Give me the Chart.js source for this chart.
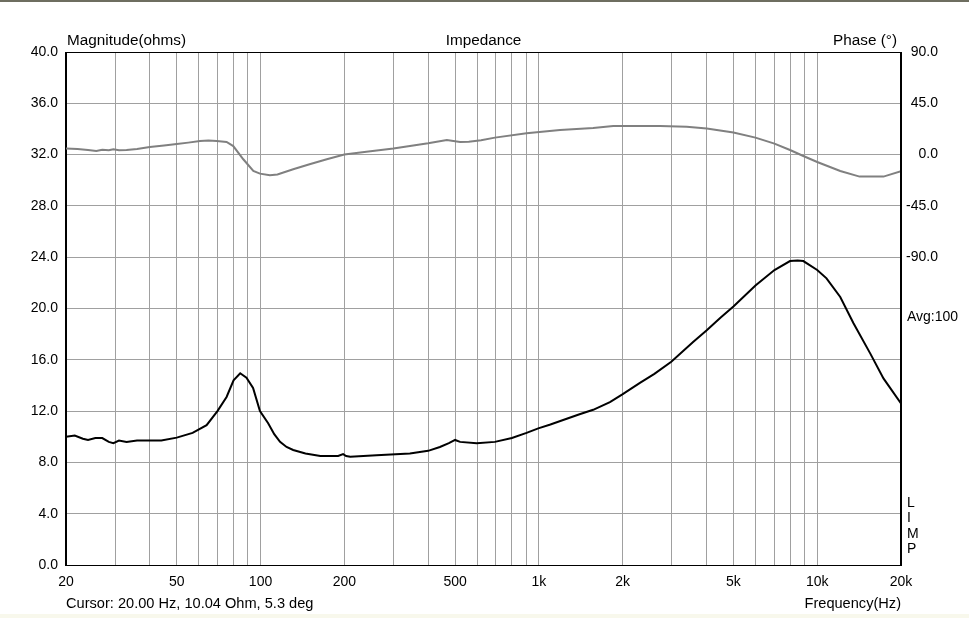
<!DOCTYPE html>
<html>
<head>
<meta charset="utf-8">
<script src="https://cdn.jsdelivr.net/npm/chart.js@4/dist/chart.umd.min.js"></script>
<style>
  html, body { margin: 0; padding: 0; background: #ffffff; }
  #wrap { width: 969px; height: 618px; position: relative; }
  canvas { display: block; }
</style>
</head>
<body>
<div id="wrap"><canvas id="c" width="969" height="618"></canvas></div>
<script>
// ---- Data ----
const magFreqs = [20, 21.5, 23, 24, 25.5, 27, 28.5, 29.6, 31, 33, 36, 40, 44, 50, 57, 64, 70, 75.5, 80, 84.5, 89, 94, 99.5, 106.5, 112, 117.5, 124, 131, 145, 164, 190, 198, 203, 210, 261, 344, 400, 441, 475, 500, 521, 598, 695, 800, 903, 995, 1100, 1259, 1400, 1567, 1800, 1995, 2307, 2600, 2990, 3590, 4010, 4500, 5000, 6000, 7020, 7985, 8500, 8915, 10000, 10800, 12100, 13500, 15500, 17300, 20000];
const magnitudeOhms = [10.0, 10.1, 9.85, 9.75, 9.9, 9.9, 9.6, 9.5, 9.7, 9.6, 9.7, 9.7, 9.7, 9.93, 10.3, 10.9, 12.0, 13.1, 14.4, 14.95, 14.6, 13.8, 12.0, 11.05, 10.2, 9.6, 9.2, 8.97, 8.7, 8.5, 8.5, 8.65, 8.5, 8.45, 8.55, 8.7, 8.9, 9.2, 9.5, 9.75, 9.6, 9.49, 9.6, 9.9, 10.3, 10.65, 10.95, 11.4, 11.75, 12.1, 12.7, 13.3, 14.2, 14.9, 15.85, 17.4, 18.3, 19.3, 20.15, 21.8, 23.0, 23.7, 23.75, 23.7, 23.0, 22.35, 20.9, 18.85, 16.5, 14.55, 12.6];

const phaseFreqs = [20, 22, 24, 25.7, 27, 28.5, 29.6, 31, 33, 36, 40, 45, 50, 55, 60.6, 65, 69.6, 75.5, 79.8, 86.7, 94.2, 99.5, 108, 115, 131, 150, 173, 200, 240, 300, 400, 467, 521, 560, 620, 695, 903, 1191, 1567, 1850, 2724, 3397, 4010, 5000, 6000, 7020, 7985, 8915, 10000, 12100, 14200, 17300, 20000];
const phaseDeg = [5.3, 5.0, 4.0, 3.2, 4.2, 3.8, 4.6, 3.9, 4.0, 5.0, 6.7, 8.0, 9.3, 10.5, 11.9, 12.3, 11.9, 11.1, 7.5, -4.1, -14.4, -16.7, -18.2, -17.5, -12.9, -8.5, -4.1, 0, 2.5, 5.3, 9.9, 12.8, 11.1, 11.3, 12.5, 14.9, 18.7, 21.6, 23.3, 25.1, 25.1, 24.5, 22.8, 19.3, 14.9, 9.6, 4.0, -1.2, -6.5, -14.4, -19.3, -19.3, -14.6];

const xGridTicks = [20, 30, 40, 50, 60, 70, 80, 90, 100, 200, 300, 400, 500, 600, 700, 800, 900, 1000, 2000, 3000, 4000, 5000, 6000, 7000, 8000, 9000, 10000, 20000];
const xLabelMap = {20: '20', 50: '50', 100: '100', 200: '200', 500: '500', 1000: '1k', 2000: '2k', 5000: '5k', 10000: '10k', 20000: '20k'};

const titleLeft = 'Magnitude(ohms)';
const titleCenter = 'Impedance';
const titleRight = 'Phase (°)';
const cursorText = 'Cursor: 20.00 Hz, 10.04 Ohm, 5.3 deg';
const xAxisTitle = 'Frequency(Hz)';
const avgText = 'Avg:100';
const sideLetters = ['L', 'I', 'M', 'P'];

const FONT = '"Liberation Sans", Arial, sans-serif';

const magData = magFreqs.map((f, i) => ({x: f, y: magnitudeOhms[i]}));
const phaseData = phaseFreqs.map((f, i) => ({x: f, y: phaseDeg[i]}));

const decor = {
  id: 'decor',
  beforeDraw(chart) {
    const ctx = chart.ctx;
    ctx.save();
    ctx.fillStyle = '#ffffff';
    ctx.fillRect(0, 0, chart.width, chart.height);
    ctx.fillStyle = '#6e6e60';
    ctx.fillRect(0, 0, chart.width, 2);
    ctx.fillStyle = '#f8f8ec';
    ctx.fillRect(0, 614, chart.width, 4);
    ctx.restore();
  },
  afterDraw(chart) {
    const ctx = chart.ctx;
    const a = chart.chartArea;
    ctx.save();
    ctx.strokeStyle = '#000000';
    ctx.lineWidth = 1;
    ctx.strokeRect(Math.round(a.left) - 0.5, Math.round(a.top) + 0.5, Math.round(a.right - a.left), Math.round(a.bottom - a.top));
    ctx.fillStyle = '#000000';
    ctx.textBaseline = 'middle';
    ctx.font = '15.3px ' + FONT;
    ctx.textAlign = 'left';
    ctx.fillText(titleLeft, a.left + 1, 41);
    ctx.textAlign = 'center';
    ctx.fillText(titleCenter, (a.left + a.right) / 2, 41);
    ctx.textAlign = 'right';
    ctx.fillText(titleRight, a.right - 4, 41);
    ctx.font = '14.6px ' + FONT;
    ctx.textAlign = 'left';
    ctx.fillText(cursorText, a.left, 604);
    ctx.textAlign = 'right';
    ctx.fillText(xAxisTitle, a.right, 604);
    ctx.font = '14px ' + FONT;
    ctx.textAlign = 'left';
    ctx.fillText(avgText, 907, 317);
    sideLetters.forEach((ch, i) => {
      ctx.fillText(ch, 907, 503 + i * 15.5);
    });
    ctx.restore();
  }
};

new Chart(document.getElementById('c'), {
  type: 'line',
  data: {
    datasets: [
      {
        label: 'Phase',
        data: phaseData,
        yAxisID: 'y2',
        borderColor: '#808080',
        borderWidth: 2,
        pointRadius: 0,
        tension: 0
      },
      {
        label: 'Magnitude',
        data: magData,
        yAxisID: 'y',
        borderColor: '#000000',
        borderWidth: 2,
        pointRadius: 0,
        tension: 0
      }
    ]
  },
  options: {
    responsive: false,
    devicePixelRatio: 1,
    animation: false,
    events: [],
    layout: { padding: { left: 0, right: 31, top: 52, bottom: 0 } },
    plugins: { legend: { display: false }, tooltip: { enabled: false }, title: { display: false } },
    scales: {
      x: {
        type: 'logarithmic',
        min: 20,
        max: 20000,
        afterBuildTicks: (s) => { s.ticks = xGridTicks.map(v => ({value: v})); },
        afterFit: (s) => { s.height = 53; },
        grid: { color: '#a0a0a0', lineWidth: 1, drawTicks: false },
        border: { display: true, color: '#000000', width: 1 },
        ticks: {
          autoSkip: false,
          maxRotation: 0,
          minRotation: 0,
          padding: 9,
          color: '#000000',
          font: { family: FONT, size: 14 },
          callback: (v) => xLabelMap[v] !== undefined ? xLabelMap[v] : ''
        }
      },
      y: {
        position: 'left',
        min: 0,
        max: 40,
        afterFit: (s) => { s.width = 66; },
        grid: { color: '#a0a0a0', lineWidth: 1, drawTicks: false },
        border: { display: true, color: '#000000', width: 1 },
        ticks: {
          stepSize: 4,
          padding: 8,
          color: '#000000',
          font: { family: FONT, size: 14 },
          callback: (v) => Number(v).toFixed(1)
        }
      },
      y2: {
        position: 'right',
        min: -360,
        max: 90,
        afterFit: (s) => { s.width = 37; },
        grid: { display: false, drawTicks: false },
        border: { display: true, color: '#000000', width: 1 },
        ticks: {
          stepSize: 45,
          padding: 5,
          crossAlign: 'far',
          color: '#000000',
          font: { family: FONT, size: 14 },
          callback: (v) => v >= -90 ? Number(v).toFixed(1) : ''
        }
      }
    }
  },
  plugins: [decor]
});
</script>
</body>
</html>
